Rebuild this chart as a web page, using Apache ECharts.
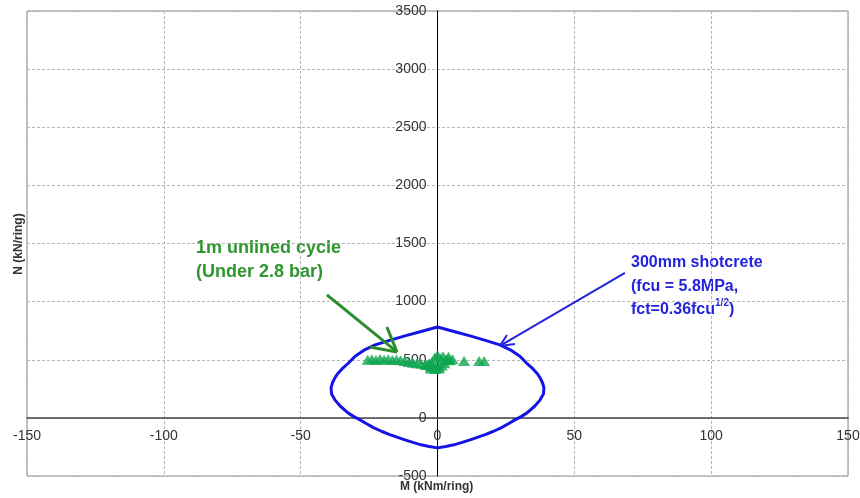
<!DOCTYPE html>
<html>
<head>
<meta charset="utf-8">
<script src="https://cdn.jsdelivr.net/npm/echarts@6/dist/echarts.min.js"></script>
<style>
  html, body { margin: 0; padding: 0; background: #fff; }
  #chart { width: 860px; height: 498px; }
</style>
</head>
<body>
<div id="chart"></div>
<script>
// M-N interaction envelope, 300mm shotcrete (two halves, top cusp -> bottom cusp)
const envRightM = [0, 6, 11.9, 17.5, 22.8, 27, 30.1, 32.6, 34.9, 36.5, 37.5, 38.4, 38.9, 38.7, 37.5, 35.5,
  32.7, 30.7, 28.3, 25.9, 23.2, 20.5, 17.7, 14.8, 11.9, 9, 6, 3, 0];
const envRightN = [782, 743, 705, 667, 628, 580, 530, 470, 421, 380, 344, 300, 258, 205, 155, 100,
  43, 13, -17, -50, -86, -115, -142, -166, -189, -211, -232, -246, -258];
const envLeftM = [0, -6, -11.9, -17.5, -22.8, -27, -30.1, -32.6, -34.9, -36.5, -37.5, -38.4, -38.9, -38.7, -37.5, -35.5,
  -32.7, -30.7, -28.3, -25.9, -23.2, -20.5, -17.7, -14.8, -11.9, -9, -6, -3, 0];
const envLeftN = [782, 743, 705, 667, 628, 580, 530, 470, 421, 380, 344, 300, 258, 205, 155, 100,
  43, 13, -17, -50, -86, -115, -142, -166, -189, -211, -232, -246, -258];

// 1m unlined cycle (under 2.8 bar)
const cycleM = [-25.5, -24, -22.5, -21, -19.5, -18, -16.5, -15, -13.5, -12, -10.5, -9, -7.5, -6, -4.5, -3.5,
  -2.5, -1.5, -0.5, 0.5, 1.5, 2.5, 3.5, 4.5, 5.5, -2, -1, 0, 1, 2, 3, 4, -3, -4, -2.5, -1, 0.5,
  9.7, 15.2, 17];
const cycleN = [500, 505, 498, 507, 500, 505, 497, 503, 495, 490, 480, 475, 470, 465, 460, 455,
  445, 440, 430, 440, 450, 470, 500, 495, 505, 480, 520, 540, 510, 530, 500, 525, 470, 455, 425, 420, 425,
  490, 490, 490];

// annotation arrows (shaft + two head strokes), in data units
const greenArrow = [[[-40.4, 1058], [-14.8, 567]], [[-24.7, 610], [-14.8, 567]], [[-18.5, 782], [-14.8, 567]]];
const blueArrow = [[[68.5, 1247], [22.8, 619]], [[25.4, 713], [22.8, 619]], [[28.3, 636], [22.8, 619]]];

const xTicks = { min: -150, max: 150, interval: 50 };
const yTicks = { min: -500, max: 3500, interval: 500 };

const labelFont = '"Liberation Sans", Arial, sans-serif';

// plot box in px
const W = 860, H = 498;
const gridBox = { left: 27, right: 12, top: 11, bottom: 22 };
const plotW = W - gridBox.left - gridBox.right;
const plotH = H - gridBox.top - gridBox.bottom;
// shift axes (line + labels) onto the zero lines
const xAxisOffset = -((0 - yTicks.min) / (yTicks.max - yTicks.min)) * plotH;
const yAxisOffset = -((0 - xTicks.min) / (xTicks.max - xTicks.min)) * plotW;

function arrowLines(segs, color, width) {
  return {
    silent: true,
    symbol: 'none',
    animation: false,
    label: { show: false },
    emphasis: { disabled: true },
    lineStyle: { color: color, width: width, type: 'solid' },
    data: segs.map(s => [{ coord: s[0] }, { coord: s[1] }]),
  };
}

function envelopeSeries(name, ms, ns, extra) {
  return Object.assign({
    name: name,
    type: 'line',
    data: ms.map((m, i) => [m, ns[i]]),
    showSymbol: false,
    symbol: 'none',
    lineStyle: { color: '#1414e6', width: 3, join: 'round' },
    z: 3,
  }, extra || {});
}

const chart = echarts.init(document.getElementById('chart'));
const option = {
  animation: false,
  backgroundColor: '#fff',
  grid: {
    left: gridBox.left,
    right: gridBox.right,
    top: gridBox.top,
    bottom: gridBox.bottom,
    show: true,
    borderColor: '#8a8a8a',
    borderWidth: 1,
    containLabel: false,
    outerBoundsMode: 'none',
  },
  xAxis: {
    type: 'value',
    position: 'bottom',
    offset: xAxisOffset,
    min: xTicks.min,
    max: xTicks.max,
    interval: xTicks.interval,
    axisLine: { show: true, onZero: false, lineStyle: { color: '#444', width: 1.5 } },
    axisTick: { show: false },
    axisLabel: { color: '#333', fontSize: 14, fontFamily: labelFont, margin: 11, formatter: v => String(v) },
    splitLine: { show: true, lineStyle: { color: '#b5b5b5', type: [3, 2], width: 1 } },
  },
  yAxis: {
    type: 'value',
    position: 'left',
    offset: yAxisOffset,
    min: yTicks.min,
    max: yTicks.max,
    interval: yTicks.interval,
    axisLine: { show: true, onZero: false, lineStyle: { color: '#000', width: 1 } },
    axisTick: { show: false },
    axisLabel: { color: '#333', fontSize: 14, fontFamily: labelFont, margin: 11, formatter: v => String(v) },
    splitLine: { show: true, lineStyle: { color: '#b5b5b5', type: [3, 2], width: 1 } },
  },
  graphic: [
    {
      type: 'text', x: 400, y: 481,
      style: { text: 'M (kNm/ring)', font: 'bold 12px "Liberation Sans Narrow", "Liberation Sans", Arial', fill: '#333' },
    },
    {
      type: 'text', x: 19, y: 244, rotation: Math.PI / 2,
      style: { text: 'N (kN/ring)', font: 'bold 12px "Liberation Sans", Arial', fill: '#333', align: 'center', verticalAlign: 'middle' },
    },
    {
      type: 'text', x: 196, y: 236,
      style: {
        text: '1m unlined cycle\n(Under 2.8 bar)',
        font: 'bold 18px "Liberation Sans", Arial',
        fill: '#2e962e',
        lineHeight: 24,
      },
    },
    {
      type: 'text', x: 631, y: 251,
      style: {
        text: '300mm shotcrete\n(fcu = 5.8MPa,\nfct=0.36fcu{sup|1/2})',
        font: 'bold 16px "Liberation Sans", Arial',
        fill: '#2323dc',
        lineHeight: 23.5,
        rich: {
          sup: { fontSize: 10, fontWeight: 'bold', fill: '#2323dc', verticalAlign: 'top', lineHeight: 23.5, padding: [0, 0, 10, 0] },
        },
      },
    },
  ],
  series: [
    envelopeSeries('envelope-right', envRightM, envRightN, { markLine: arrowLines(blueArrow, '#2323dc', 2) }),
    envelopeSeries('envelope-left', envLeftM, envLeftN),
    {
      name: 'cycle',
      type: 'scatter',
      data: cycleM.map((m, i) => [m, cycleN[i]]),
      symbol: 'triangle',
      symbolSize: [12, 10],
      itemStyle: { color: '#10a650' },
      z: 4,
      markLine: arrowLines(greenArrow, '#2a8c2a', 3),
    },
  ],
};
chart.setOption(option);
</script>
</body>
</html>
